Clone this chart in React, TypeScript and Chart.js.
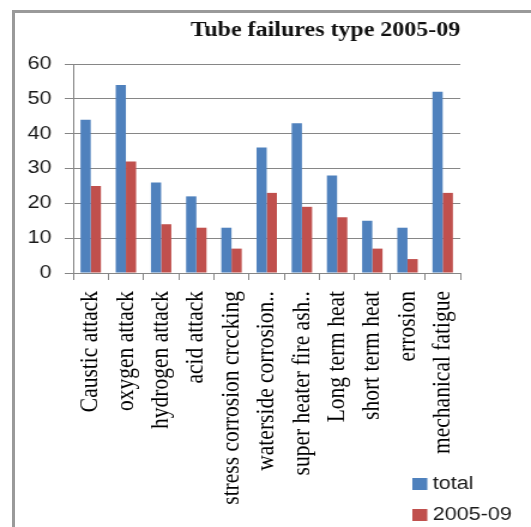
import React, { useEffect, useRef } from "react";
import { Chart, registerables } from "chart.js";

Chart.register(...registerables);

const categories = [
  "Caustic attack",
  "oxygen attack",
  "hydrogen attack",
  "acid attack",
  "stress corrosion crccking",
  "waterside corrosion..",
  "super heater fire ash..",
  "Long term heat",
  "short term heat",
  "errosion",
  "mechanical fatigue",
];
const totalValues = [44, 54, 26, 22, 13, 36, 43, 28, 15, 13, 52];
const period0509Values = [25, 32, 14, 13, 7, 23, 19, 16, 7, 4, 23];
const seriesNames = ["total", "2005-09"];
const seriesColors = ["#4F81BD", "#C0504D"];
const yTicks = [0, 10, 20, 30, 40, 50, 60];
const titleText = "Tube failures type 2005-09";

// The reference is horizontally stretched; draw narrower and scale with CSS.
const CSS_W = 531;
const CSS_H = 527;
const INNER_W = 443;

const legendPlugin = {
  id: "sideLegend",
  afterDraw(chart: any) {
    const ctx = chart.ctx;
    const x = chart.width - 99;
    const ys = [chart.height - 49, chart.height - 18];
    ctx.save();
    chart.data.datasets.forEach((ds: any, i: number) => {
      ctx.fillStyle = ds.backgroundColor;
      ctx.fillRect(x, ys[i], 12.5, 12);
      ctx.fillStyle = "#1a1a1a";
      ctx.font = "18px 'Liberation Sans', Arial, sans-serif";
      ctx.textBaseline = "middle";
      ctx.textAlign = "left";
      ctx.fillText(ds.label, x + 17, ys[i] + 6.5);
    });
    ctx.restore();
  },
};

export default function App() {
  const ref = useRef<HTMLCanvasElement | null>(null);
  useEffect(() => {
    if (!ref.current) return;
    const chart = new Chart(ref.current, {
      type: "bar",
      data: {
        labels: categories,
        datasets: [
          {
            label: seriesNames[0],
            data: totalValues,
            backgroundColor: seriesColors[0],
            categoryPercentage: 0.58,
            barPercentage: 1,
          },
          {
            label: seriesNames[1],
            data: period0509Values,
            backgroundColor: seriesColors[1],
            categoryPercentage: 0.58,
            barPercentage: 1,
          },
        ],
      },
      options: {
        responsive: false,
        animation: false,
        layout: { padding: { left: 0, right: 59, top: 0, bottom: 0 } },
        plugins: {
          legend: { display: false },
          tooltip: { enabled: false },
          title: {
            display: true,
            text: titleText,
            align: "end",
            color: "#111",
            font: { family: "'Liberation Serif', 'Times New Roman', serif", size: 20, weight: "bold" },
            padding: { top: 19, bottom: 21 },
          },
        },
        scales: {
          x: {
            offset: true,
            grid: { offset: true, drawOnChartArea: false, drawTicks: true, tickLength: 7, color: "#868686" },
            border: { color: "#868686" },
            ticks: {
              autoSkip: false,
              maxRotation: 90,
              minRotation: 90,
              padding: 11,
              color: "#000",
              font: { family: "'Liberation Serif', 'Times New Roman', serif", size: 21.5 },
            },
            afterFit(scale: any) {
              scale.height = 254;
            },
          },
          y: {
            min: 0,
            max: 60,
            afterBuildTicks(scale: any) {
              scale.ticks = yTicks.map((v) => ({ value: v }));
            },
            grid: { color: "#868686", tickLength: 7 },
            border: { color: "#868686" },
            ticks: {
              padding: 11,
              color: "#1a1a1a",
              font: { family: "'Liberation Sans', Arial, sans-serif", size: 18 },
            },
            afterFit(scale: any) {
              scale.width = 61;
            },
          },
        },
      },
      plugins: [legendPlugin],
    });
    return () => chart.destroy();
  }, []);

  return (
    <div
      style={{
        position: "fixed",
        left: 0,
        top: 0,
        width: CSS_W,
        height: CSS_H,
        overflow: "hidden",
        background: "#fff",
      }}
    >
      <canvas
        ref={ref}
        width={INNER_W}
        height={CSS_H}
        style={{ position: "absolute", left: 0, top: 0, width: CSS_W + "px", height: CSS_H + "px" }}
      />
      <div
        style={{
          position: "absolute",
          left: 12,
          top: 10,
          width: 700,
          height: 700,
          borderLeft: "3px solid #9a9a9a",
          borderTop: "3px solid #9a9a9a",
          pointerEvents: "none",
        }}
      />
    </div>
  );
}
